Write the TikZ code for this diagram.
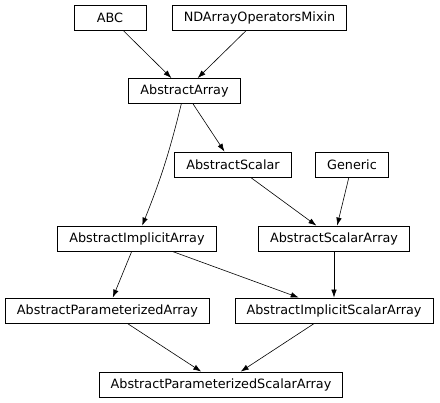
\documentclass[tikz,border=0pt]{standalone}
\usepackage{fontspec}
\setmainfont{DejaVu Sans}
\usepackage{tikz}
\usetikzlibrary{arrows.meta}

\begin{document}
\begin{tikzpicture}[x=1pt,y=1pt,yscale=-1,xscale=1,
  cls/.style={draw, line width=0.8pt, minimum height=25pt, inner xsep=11.5pt, font=\fontsize{12.8}{15}\selectfont},
  inh/.style={-{Latex[length=8pt,width=5.5pt]}, line width=0.6pt}]
%set diagram frame: 440 x 403
\useasboundingbox (0,0) rectangle (440,403);

%Classes
\node [cls, minimum width=72pt] (ABC) at (110,17.5) {ABC};
\node [cls] (NDArrayOperatorsMixin) at (259.5,17.5) {NDArrayOperatorsMixin};
\node [cls] (AbstractArray) at (184.5,91) {AbstractArray};
\node [cls] (AbstractScalar) at (233,164.5) {AbstractScalar};
\node [cls, minimum width=72pt] (Generic) at (352,164.5) {Generic};
\node [cls] (AbstractImplicitArray) at (137,238.5) {AbstractImplicitArray};
\node [cls] (AbstractScalarArray) at (334,238.5) {AbstractScalarArray};
\node [cls] (AbstractParameterizedArray) at (107.5,310.5) {AbstractParameterizedArray};
\node [cls] (AbstractImplicitScalarArray) at (334,310.5) {AbstractImplicitScalarArray};
\node [cls] (AbstractParameterizedScalarArray) at (221,384.5) {AbstractParameterizedScalarArray};

%Inheritance arrows
\draw [inh] (ABC) -- (AbstractArray);
\draw [inh] (NDArrayOperatorsMixin) -- (AbstractArray);
\draw [inh] (AbstractArray) -- (AbstractScalar);
\draw [inh] (AbstractArray) to [bend right=4] (AbstractImplicitArray);
\draw [inh] (AbstractScalar) -- (AbstractScalarArray);
\draw [inh] (Generic) -- (AbstractScalarArray);
\draw [inh] (AbstractImplicitArray) -- (AbstractParameterizedArray);
\draw [inh] (AbstractImplicitArray) -- (AbstractImplicitScalarArray);
\draw [inh] (AbstractScalarArray) -- (AbstractImplicitScalarArray);
\draw [inh] (AbstractParameterizedArray) -- (AbstractParameterizedScalarArray);
\draw [inh] (AbstractImplicitScalarArray) -- (AbstractParameterizedScalarArray);

\end{tikzpicture}
\end{document}
